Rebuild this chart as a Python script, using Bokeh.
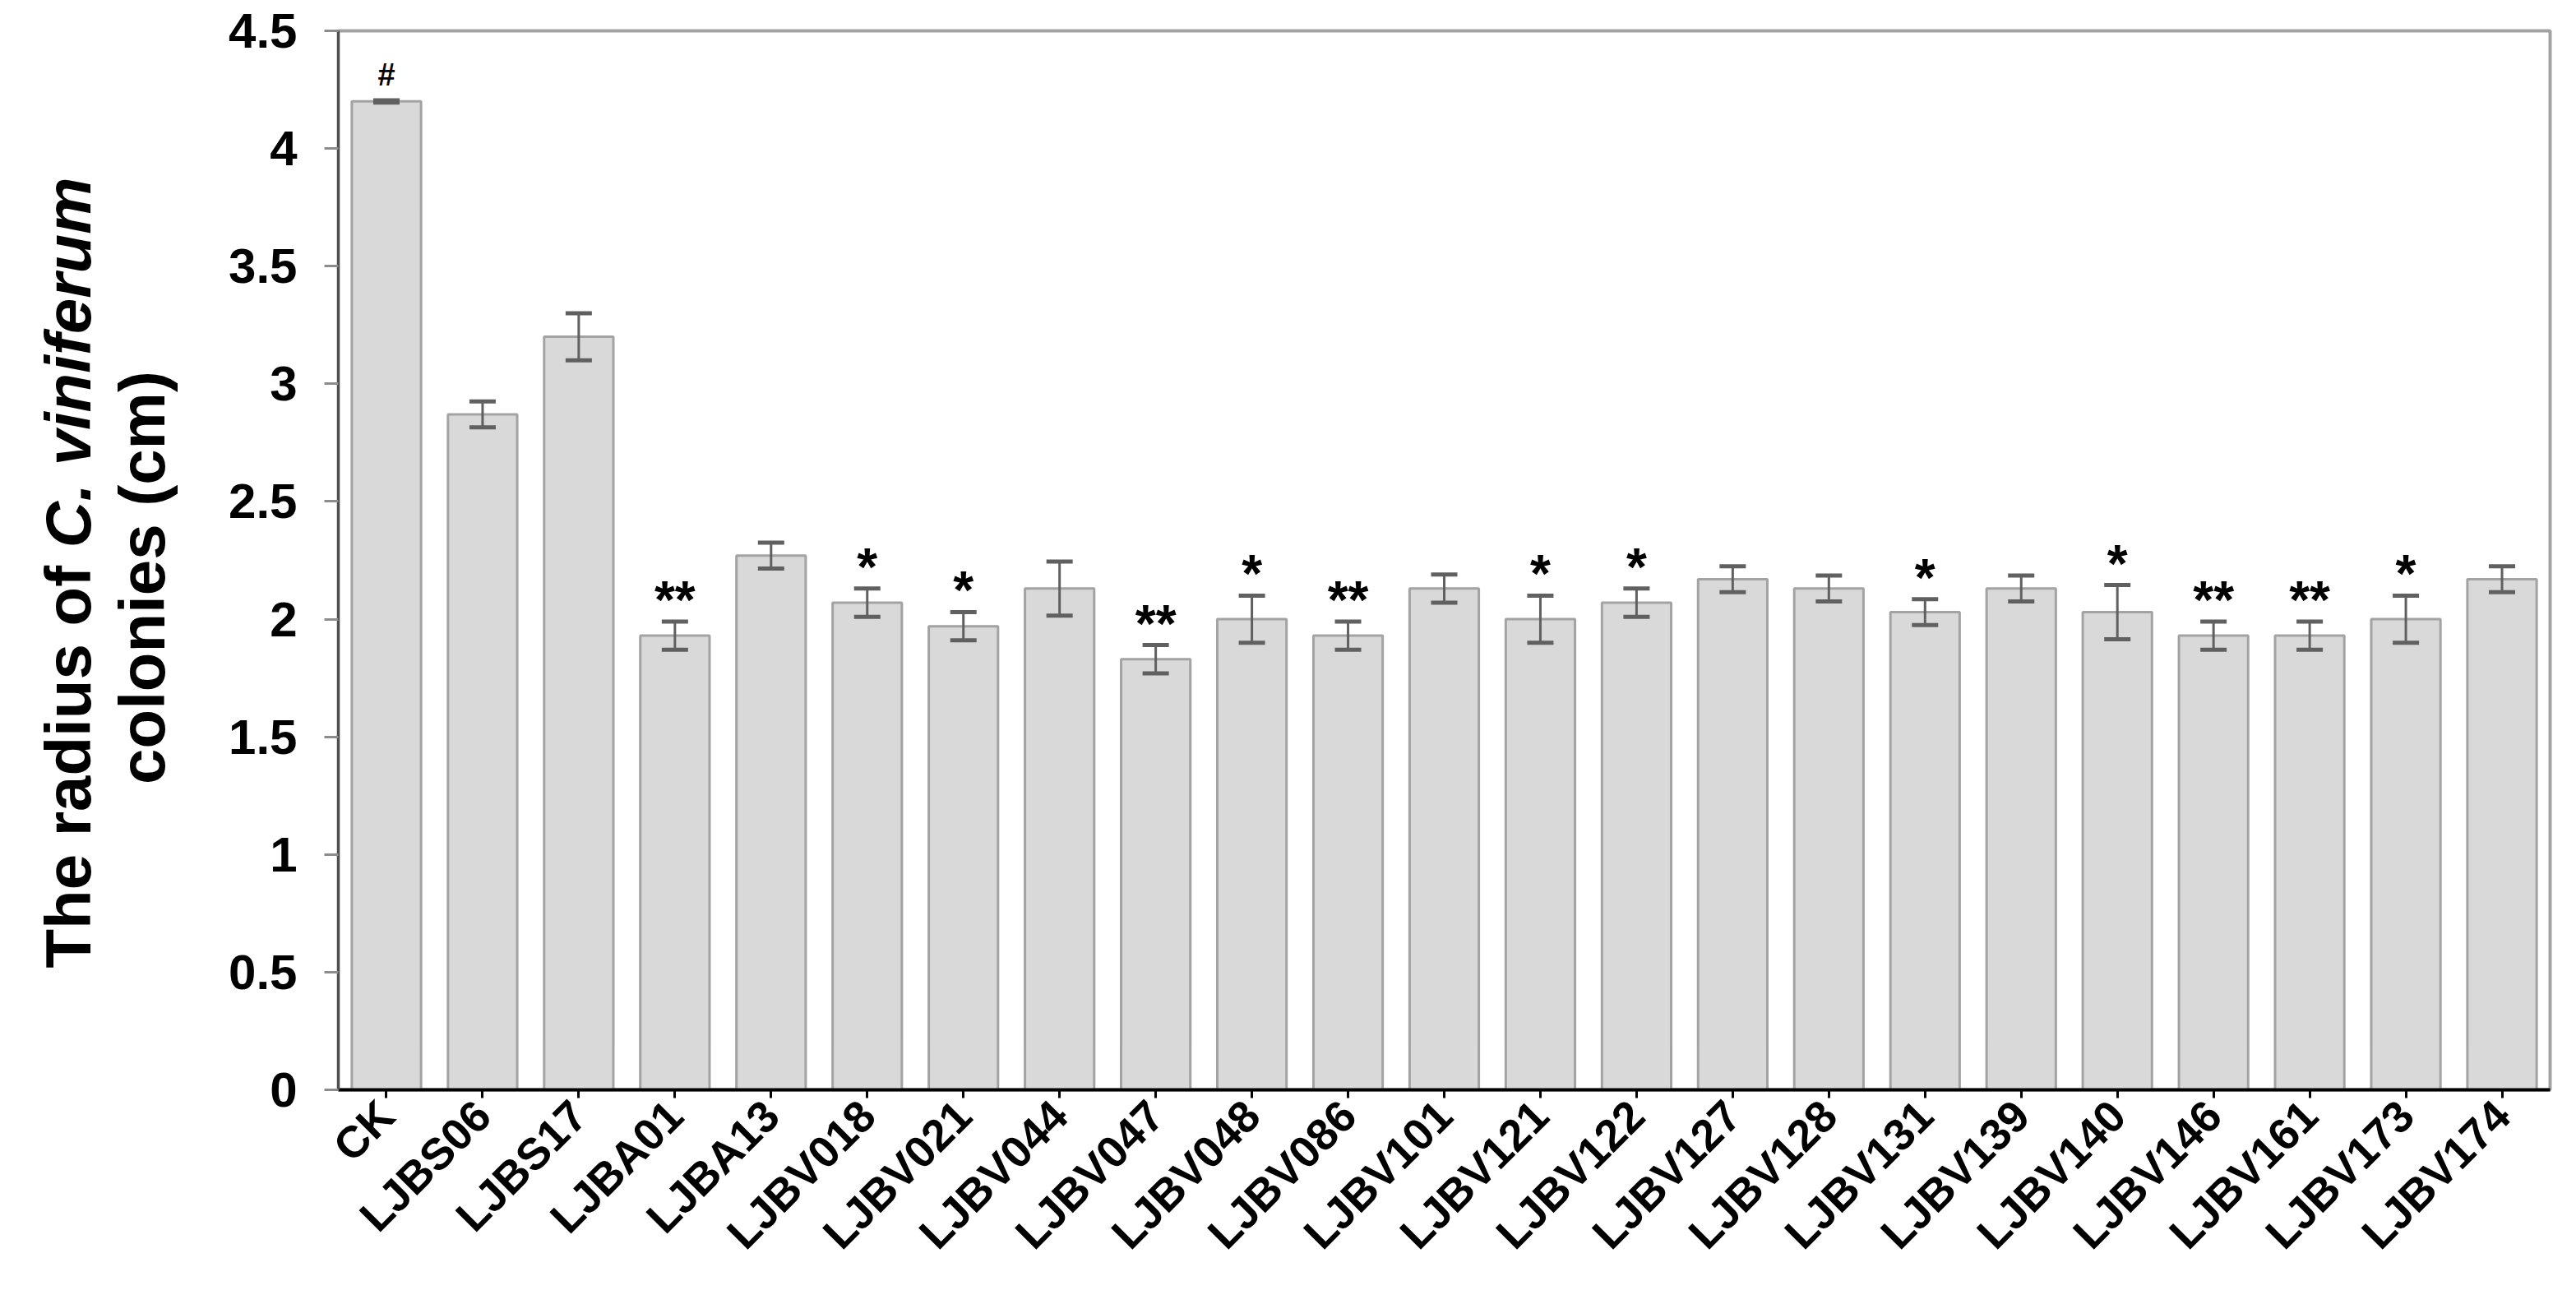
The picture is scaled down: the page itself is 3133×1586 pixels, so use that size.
import math
from bokeh.plotting import figure
from bokeh.layouts import row
from bokeh.models import (ColumnDataSource, FactorRange, Range1d, FixedTicker,
                          Whisker, TeeHead)
from bokeh.core.properties import value
from bokeh.embed import file_html
from bokeh.resources import INLINE

# ---------------- data ----------------
categories = ["CK", "LJBS06", "LJBS17", "LJBA01", "LJBA13", "LJBV018", "LJBV021",
              "LJBV044", "LJBV047", "LJBV048", "LJBV086", "LJBV101", "LJBV121",
              "LJBV122", "LJBV127", "LJBV128", "LJBV131", "LJBV139", "LJBV140",
              "LJBV146", "LJBV161", "LJBV173", "LJBV174"]
radius = [4.20, 2.87, 3.20, 1.93, 2.27, 2.07, 1.97, 2.13, 1.83, 2.00, 1.93, 2.13,
          2.00, 2.07, 2.17, 2.13, 2.03, 2.13, 2.03, 1.93, 1.93, 2.00, 2.17]
sem = [0.005, 0.055, 0.10, 0.06, 0.055, 0.06, 0.06, 0.115, 0.06, 0.10, 0.06, 0.06,
       0.10, 0.06, 0.055, 0.055, 0.055, 0.055, 0.115, 0.06, 0.06, 0.10, 0.055]
signif = ["#", "", "", "**", "", "*", "*", "", "**", "*", "**", "", "*", "*", "",
          "", "*", "", "*", "**", "**", "*", ""]
y_ticks = [0, 0.5, 1, 1.5, 2, 2.5, 3, 3.5, 4, 4.5]
y_tick_labels = ["0", "0.5", "1", "1.5", "2", "2.5", "3", "3.5", "4", "4.5"]
y_title_line1 = ["The radius of ", "C. viniferum"]
y_title_line2 = "colonies (cm)"

FONT = "Liberation Sans"
Y_MAX = 4.5

upper = [v + e for v, e in zip(radius, sem)]
lower = [v - e for v, e in zip(radius, sem)]
src = ColumnDataSource(dict(cats=categories, vals=radius, upper=upper, lower=lower))

# ---------------- layout ----------------
H = 1570
TW = 230                     # width of the title strip
W = 3117 - TW                # width of the chart figure
MB_L, MB_R, MB_T, MB_B = 419 - 8 - TW, 16, 37, 245
FRAME_TOP_PAGE = 8 + MB_T
FRAME_BOTTOM_PAGE = 8 + H - MB_B

p = figure(width=W, height=H, output_backend="svg", toolbar_location=None,
           x_range=FactorRange(factors=categories, range_padding=0),
           y_range=Range1d(0, Y_MAX),
           min_border_left=MB_L, min_border_right=MB_R, min_border_top=MB_T,
           min_border_bottom=MB_B)
p.grid.visible = False
p.background_fill_color = "white"
p.border_fill_color = "white"
p.outline_line_color = "#a3a3a3"
p.outline_line_width = 4

# bars
p.vbar(x="cats", top="vals", width=0.72, source=src, fill_color="#d9d9d9",
       line_color="#a3a3a3", line_width=3)

# error bars
p.add_layout(Whisker(base="cats", upper="upper", lower="lower", source=src,
                     level="annotation", line_color="#606060", line_width=3,
                     upper_head=TeeHead(size=32, line_color="#606060", line_width=5),
                     lower_head=TeeHead(size=32, line_color="#606060", line_width=5)))

# significance marks
star_idx = [i for i, s in enumerate(signif) if s and s != "#"]
hash_idx = [i for i, s in enumerate(signif) if s == "#"]
p.text(x=[categories[i] for i in star_idx], y=[upper[i] for i in star_idx],
       text=[signif[i] for i in star_idx], text_align="center",
       text_baseline="alphabetic", text_font=value(FONT), text_font_style="bold",
       text_font_size="64px", text_color="black", y_offset=-26)
p.text(x=[categories[i] for i in hash_idx], y=[upper[i] for i in hash_idx],
       text=[signif[i] for i in hash_idx], text_align="center",
       text_baseline="alphabetic", text_font=value(FONT), text_font_style="bold",
       text_font_size="38px", text_color="black", y_offset=-31)

# y axis
ya = p.yaxis[0]
ya.ticker = FixedTicker(ticks=y_ticks)
ya.major_label_overrides = {t: l for t, l in zip(y_ticks, y_tick_labels)}
ya.major_label_text_font = FONT
ya.major_label_text_font_style = "bold"
ya.major_label_text_font_size = "60px"
ya.major_label_text_color = "black"
ya.major_label_standoff = 33
ya.major_tick_out = 17
ya.major_tick_in = 0
ya.major_tick_line_color = "#8c8c8c"
ya.major_tick_line_width = 3
ya.minor_tick_line_color = None
ya.axis_line_color = "#4d4d4d"
ya.axis_line_width = 3

# x axis
xa = p.xaxis[0]
xa.major_label_orientation = math.pi / 4
xa.major_label_text_font = FONT
xa.major_label_text_font_style = "bold"
xa.major_label_text_font_size = "54px"
xa.major_label_text_color = "black"
xa.major_label_standoff = 12
xa.major_tick_out = 10
xa.major_tick_in = 0
xa.major_tick_line_color = "black"
xa.major_tick_line_width = 3
xa.axis_line_color = "black"
xa.axis_line_width = 4

# ---------------- y title strip (rotated, mixed roman / italic) ----------------
# the strip has the same top/bottom borders as the chart, so its frame spans
# page y FRAME_TOP_PAGE..FRAME_BOTTOM_PAGE and page x 8..8+TW; data = pixels
FH = H - MB_T - MB_B
t = figure(width=TW, height=H, output_backend="svg", toolbar_location=None,
           x_axis_type=None, y_axis_type=None,
           x_range=Range1d(0, TW), y_range=Range1d(0, FH),
           min_border_left=0, min_border_right=0, min_border_top=MB_T,
           min_border_bottom=MB_B)
t.grid.visible = False
t.outline_line_color = None
t.background_fill_color = "white"
t.border_fill_color = "white"

TFS = 78
adv = {" ": .278, "T": .611, "h": .611, "e": .556, "r": .389, "a": .556, "d": .611,
       "i": .278, "u": .611, "s": .556, "o": .611, "f": .333, "C": .722, ".": .278,
       "v": .556, "n": .611, "m": .889, "c": .556, "l": .278, "(": .333, ")": .333}
def tw(s):
    return sum(adv.get(ch, .6) for ch in s) * TFS

def sy(page_y):          # page y -> strip data y
    return FRAME_BOTTOM_PAGE - page_y

def sx(page_x):
    return page_x - 8

center1_page_y = 704
center2_page_y = 710
w1a, w1b = tw(y_title_line1[0]), tw(y_title_line1[1])
start1 = center1_page_y + (w1a + w1b) / 2
t.text(x=[sx(90), sx(90)], y=[sy(start1), sy(start1 - w1a)],
       text=y_title_line1, angle=math.pi / 2, text_align="left",
       text_baseline="alphabetic", text_font=value(FONT),
       text_font_style=["bold", "bold italic"], text_font_size=f"{TFS}px",
       text_color="black")
t.text(x=[sx(180)], y=[sy(center2_page_y)], text=[y_title_line2], angle=math.pi / 2,
       text_align="center", text_baseline="alphabetic", text_font=value(FONT),
       text_font_style="bold", text_font_size=f"{TFS}px", text_color="black")

layout = row(t, p, spacing=0)
open("out.html", "w").write(file_html(layout, INLINE))
